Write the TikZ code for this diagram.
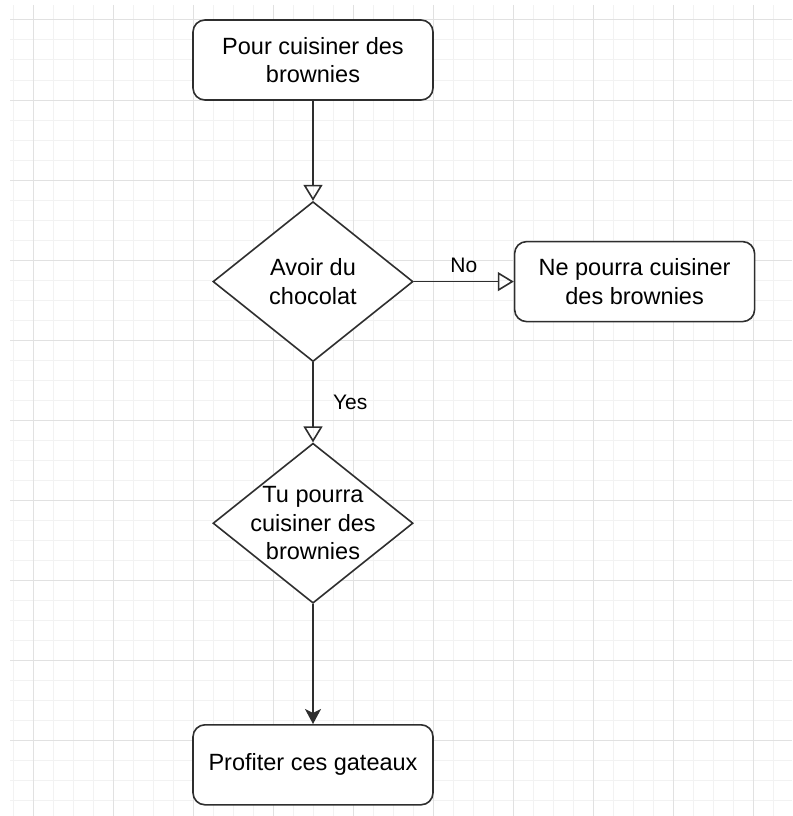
\documentclass[tikz,border=0pt]{standalone}
\usepackage{fontspec}
\setmainfont{Liberation Sans}
\usetikzlibrary{arrows.meta}
\usetikzlibrary{shapes.geometric}
\usetikzlibrary{positioning}
\definecolor{gridminor}{HTML}{F2F2F2}
\definecolor{gridmajor}{HTML}{E1E1E1}
\definecolor{linegray}{HTML}{2E2E2E}
\tikzset{block/.style={draw=linegray, line width=1.6pt, rounded corners=12pt, fill=white, minimum width=240pt, minimum height=80pt, align=center, font=\fontsize{23.5pt}{28.3pt}\selectfont}}
\tikzset{decision/.style={draw=linegray, line width=1.6pt, diamond, fill=white, minimum width=200pt, minimum height=160pt, aspect=1.25, inner sep=0pt}}
\tikzset{decisiontext/.style={align=center, inner sep=0pt, font=\fontsize{23.5pt}{28.3pt}\selectfont}}
\tikzset{edgelabel/.style={font=\fontsize{21pt}{25pt}\selectfont}}
\tikzset{connect/.style={draw=linegray, line width=1.6pt}}
\tikzset{openhead/.style={-{Triangle[open, length=16pt, width=19pt]}}}
\tikzset{fullhead/.style={-{Stealth[length=15pt, width=16pt, inset=4pt]}}}

\begin{document}
\begin{tikzpicture}[x=1pt,y=-1pt]
\useasboundingbox (0,0) rectangle (792,816);
\foreach \x in {13,33,...,773} \draw[gridminor, line width=1pt] (\x,5) -- (\x,816);
\foreach \y in {20,40,...,800} \draw[gridminor, line width=1pt] (10,\y) -- (792,\y);
\foreach \x in {33,113,...,753} \draw[gridmajor, line width=1pt] (\x,5) -- (\x,816);
\foreach \y in {20,100,...,740} \draw[gridmajor, line width=1pt] (10,\y) -- (792,\y);

\node[block] (start) at (313,60) {Pour cuisiner des\\brownies};
\node[decision, below=100pt of start] (chocolat) {};
\node[decisiontext] (chocolattext) at (chocolat) {Avoir du\\chocolat};
\node[block, right=100pt of chocolat] (rate) {Ne pourra cuisiner\\des brownies};
\node[decision, below=80pt of chocolat] (pourra) {};
\node[decisiontext] (pourratext) at (pourra) {Tu pourra\\cuisiner des\\brownies};
\node[block, below=120pt of pourra] (profiter) {Profiter ces gateaux};

\path[connect,openhead] (start) -- (chocolat);
\path[connect,openhead] (chocolat) -- node[edgelabel, midway, above=5pt] (no) {No} (rate);
\path[connect,openhead] (chocolat) -- node[edgelabel, midway, right=16pt] (yes) {Yes} (pourra);
\path[connect,fullhead] (pourra) -- (profiter);
\end{tikzpicture}
\end{document}
